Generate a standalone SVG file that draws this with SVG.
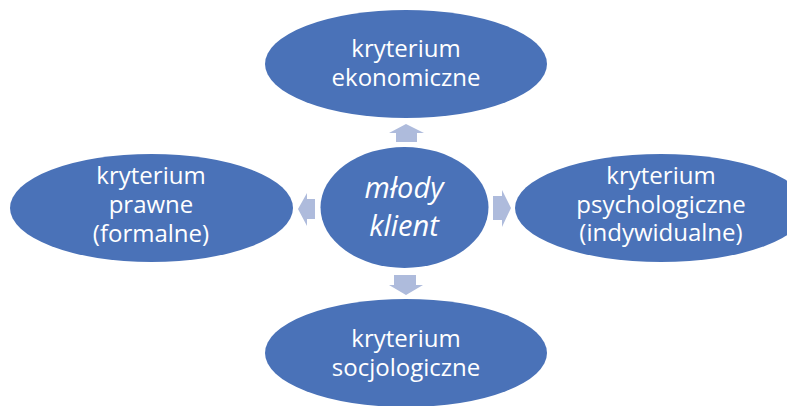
<svg xmlns="http://www.w3.org/2000/svg" width="787" height="406" viewBox="0 0 787 406">
<style>
.n{fill:#4a72b8}
.a{fill:#aebbdc}
.t{font-family:"Open Sans","Liberation Sans",sans-serif;font-size:24px;fill:#ffffff;text-anchor:middle}
.c{font-family:"Open Sans","Liberation Sans",sans-serif;font-size:29px;font-style:italic;fill:#ffffff;text-anchor:middle}
</style>
<rect width="787" height="406" fill="#ffffff"/>
<g id="connectors">
<polygon class="a" points="396,142 396,133 389,133 406,124 424,133 417,133 417,142"/>
<polygon class="a" points="394,275 416,275 416,285 423,285 406,295 389,285 394,285"/>
<polygon class="a" points="315,199 315,219 307,219 307,226 298,209 307,193 307,199"/>
<polygon class="a" points="493,196 502,196 502,190 511,208 502,227 502,220 493,220"/>
</g>
<g id="top">
<ellipse class="n" cx="406" cy="64" rx="141" ry="54"/>
<text class="t" x="406" y="57">kryterium</text>
<text class="t" x="406" y="86">ekonomiczne</text>
</g>
<g id="center">
<ellipse class="n" cx="404.5" cy="207.5" rx="84" ry="60.5"/>
<text class="c" x="404" y="198">młody</text>
<text class="c" x="404" y="236">klient</text>
</g>
<g id="left">
<ellipse class="n" cx="151.5" cy="208" rx="141.5" ry="54"/>
<text class="t" x="151" y="184">kryterium</text>
<text class="t" x="151" y="213">prawne</text>
<text class="t" x="151" y="242">(formalne)</text>
</g>
<g id="right">
<ellipse class="n" cx="661" cy="208" rx="146" ry="54"/>
<text class="t" x="661" y="184">kryterium</text>
<text class="t" x="661" y="213">psychologiczne</text>
<text class="t" x="661" y="241">(indywidualne)</text>
</g>
<g id="bottom">
<ellipse class="n" cx="406" cy="353" rx="141" ry="54"/>
<text class="t" x="406" y="347">kryterium</text>
<text class="t" x="406" y="376">socjologiczne</text>
</g>
</svg>
